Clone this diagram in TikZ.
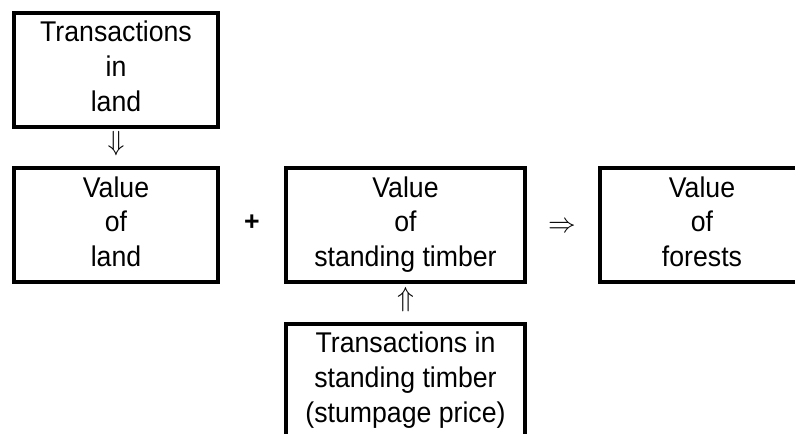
\documentclass[tikz,border=0pt]{standalone}
\usepackage{fontspec}
\setmainfont{Liberation Sans}
\usetikzlibrary{calc}
\newcommand{\boxlines}[1]{\scalebox{1}[1.07]{\fontsize{20}{24.5}\selectfont\begin{tabular}{@{}c@{}}#1\end{tabular}}}
\begin{document}
\begin{tikzpicture}[x=0.75pt,y=-0.75pt,
  box/.style={draw=black,line width=3pt,align=center,inner sep=0pt,
    minimum height=85.5pt},
  glyph/.style={inner sep=0pt,font=\fontsize{20}{24}\selectfont}]
\useasboundingbox (0,0) rectangle (795,433);
\clip (0,0) rectangle (795,433);
\node[box,minimum width=153pt] (tl) at (116,69.5) {\boxlines{Transactions\\in\\land}};
\node[box,minimum width=153pt] (vl) at (116,225) {\boxlines{Value\\of\\land}};
\node[box,minimum width=179.25pt] (vt) at (405.5,225) {\boxlines{Value\\of\\standing timber}};
\node[box,minimum width=153pt] (vf) at (702,225) {\boxlines{Value\\of\\forests}};
\node[box,minimum width=179.25pt] (tt) at (405.5,380.5) {\boxlines{Transactions in\\standing timber\\(stumpage price)}};
\node[glyph] (plus) at (252,223) {\textbf{+}};
\node[glyph] (imp) at (562,227) {$\Rightarrow$};
\node[glyph,yshift=2.6pt] (down) at ($(tl.south)!0.5!(vl.north)$) {$\Downarrow$};
\node[glyph,yshift=2.2pt] (up) at ($(vt.south)!0.5!(tt.north)$) {$\Uparrow$};
\end{tikzpicture}
\end{document}
